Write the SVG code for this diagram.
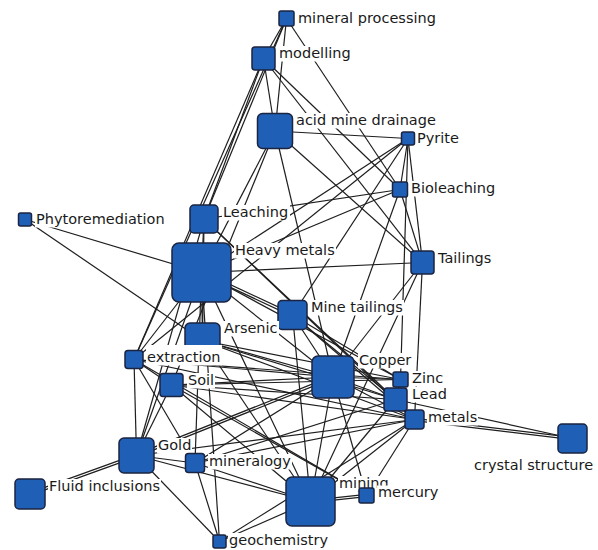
<svg xmlns="http://www.w3.org/2000/svg" width="598" height="550" viewBox="0 0 598 550">
<style>
.e{stroke:#1e1e1e;stroke-width:1.2;fill:none}
.n{fill:#1f5fb5;stroke:#1b2440;stroke-width:1.5}
.bg{fill:#fff}
.t{font-family:"DejaVu Sans",Verdana,sans-serif;font-size:14.5px;fill:#1a1a1a}
</style>
<rect width="598" height="550" fill="#fff"/>
<g id="connectors">
<line class="e" x1="286.5" y1="18.5" x2="263.5" y2="58.5"/>
<line class="e" x1="286.5" y1="18.5" x2="275" y2="131"/>
<line class="e" x1="286.5" y1="18.5" x2="134" y2="359.5"/>
<line class="e" x1="286.5" y1="18.5" x2="400" y2="189.5"/>
<line class="e" x1="286.5" y1="18.5" x2="204" y2="219"/>
<line class="e" x1="263.5" y1="58.5" x2="275" y2="131"/>
<line class="e" x1="263.5" y1="58.5" x2="400" y2="189.5"/>
<line class="e" x1="263.5" y1="58.5" x2="134" y2="359.5"/>
<line class="e" x1="263.5" y1="58.5" x2="204" y2="219"/>
<line class="e" x1="263.5" y1="58.5" x2="422.5" y2="262.5"/>
<line class="e" x1="275" y1="131" x2="408" y2="138.5"/>
<line class="e" x1="275" y1="131" x2="201.5" y2="272.5"/>
<line class="e" x1="275" y1="131" x2="171.5" y2="385"/>
<line class="e" x1="275" y1="131" x2="333" y2="377"/>
<line class="e" x1="275" y1="131" x2="422.5" y2="262.5"/>
<line class="e" x1="408" y1="138.5" x2="400" y2="189.5"/>
<line class="e" x1="408" y1="138.5" x2="422.5" y2="262.5"/>
<line class="e" x1="408" y1="138.5" x2="201.5" y2="272.5"/>
<line class="e" x1="408" y1="138.5" x2="292.5" y2="315"/>
<line class="e" x1="408" y1="138.5" x2="400.5" y2="379.5"/>
<line class="e" x1="408" y1="138.5" x2="134" y2="359.5"/>
<line class="e" x1="400" y1="189.5" x2="422.5" y2="262.5"/>
<line class="e" x1="400" y1="189.5" x2="333" y2="377"/>
<line class="e" x1="400" y1="189.5" x2="201.5" y2="272.5"/>
<line class="e" x1="400" y1="189.5" x2="204" y2="219"/>
<line class="e" x1="204" y1="219" x2="201.5" y2="272.5"/>
<line class="e" x1="204" y1="219" x2="202.5" y2="340.5"/>
<line class="e" x1="204" y1="219" x2="395.5" y2="399.5"/>
<line class="e" x1="204" y1="219" x2="414.5" y2="419.5"/>
<line class="e" x1="204" y1="219" x2="136.5" y2="455.5"/>
<line class="e" x1="25" y1="219.5" x2="201.5" y2="272.5"/>
<line class="e" x1="25" y1="219.5" x2="202.5" y2="340.5"/>
<line class="e" x1="201.5" y1="272.5" x2="422.5" y2="262.5"/>
<line class="e" x1="201" y1="273.6" x2="292" y2="316.1"/>
<line class="e" x1="202" y1="271.4" x2="293" y2="313.9"/>
<line class="e" x1="201.5" y1="272.5" x2="333" y2="377"/>
<line class="e" x1="201.5" y1="272.5" x2="400.5" y2="379.5"/>
<line class="e" x1="201.5" y1="272.5" x2="195" y2="463"/>
<line class="e" x1="201.5" y1="272.5" x2="219.5" y2="541.5"/>
<line class="e" x1="201.5" y1="272.5" x2="134" y2="359.5"/>
<line class="e" x1="201.5" y1="272.5" x2="136.5" y2="455.5"/>
<line class="e" x1="201.5" y1="272.5" x2="202.5" y2="340.5"/>
<line class="e" x1="201.5" y1="272.5" x2="310.5" y2="501.5"/>
<line class="e" x1="422.5" y1="262.5" x2="310.5" y2="501.5"/>
<line class="e" x1="422.5" y1="262.5" x2="333" y2="377"/>
<line class="e" x1="422.5" y1="262.5" x2="414.5" y2="419.5"/>
<line class="e" x1="292.5" y1="315" x2="333" y2="377"/>
<line class="e" x1="292.5" y1="315" x2="310.5" y2="501.5"/>
<line class="e" x1="292.5" y1="315" x2="400.5" y2="379.5"/>
<line class="e" x1="292.5" y1="315" x2="395.5" y2="399.5"/>
<line class="e" x1="292.5" y1="315" x2="414.5" y2="419.5"/>
<line class="e" x1="202.5" y1="340.5" x2="333" y2="377"/>
<line class="e" x1="202.5" y1="340.5" x2="395.5" y2="399.5"/>
<line class="e" x1="202.5" y1="340.5" x2="400.5" y2="379.5"/>
<line class="e" x1="202.5" y1="340.5" x2="414.5" y2="419.5"/>
<line class="e" x1="202.5" y1="340.5" x2="310.5" y2="501.5"/>
<line class="e" x1="134" y1="359.5" x2="136.5" y2="455.5"/>
<line class="e" x1="134" y1="359.5" x2="171.5" y2="385"/>
<line class="e" x1="134" y1="359.5" x2="414.5" y2="419.5"/>
<line class="e" x1="134" y1="359.5" x2="400.5" y2="379.5"/>
<line class="e" x1="134" y1="359.5" x2="333" y2="377"/>
<line class="e" x1="134" y1="359.5" x2="195" y2="463"/>
<line class="e" x1="134" y1="359.5" x2="366.5" y2="495.5"/>
<line class="e" x1="171.5" y1="385" x2="136.5" y2="455.5"/>
<line class="e" x1="171.5" y1="385" x2="333" y2="377"/>
<line class="e" x1="171.5" y1="385" x2="395.5" y2="399.5"/>
<line class="e" x1="171.5" y1="385" x2="366.5" y2="495.5"/>
<line class="e" x1="171.5" y1="385" x2="310.5" y2="501.5"/>
<line class="e" x1="171.5" y1="385" x2="400.5" y2="379.5"/>
<line class="e" x1="171.5" y1="385" x2="414.5" y2="419.5"/>
<line class="e" x1="136.5" y1="455.5" x2="195" y2="463"/>
<line class="e" x1="136.5" y1="455.5" x2="310.5" y2="501.5"/>
<line class="e" x1="136.1" y1="454.4" x2="29.6" y2="492.9"/>
<line class="e" x1="136.9" y1="456.6" x2="30.4" y2="495.1"/>
<line class="e" x1="136.5" y1="455.5" x2="219.5" y2="541.5"/>
<line class="e" x1="136.1" y1="454.4" x2="332.6" y2="375.9"/>
<line class="e" x1="136.9" y1="456.6" x2="333.4" y2="378.1"/>
<line class="e" x1="136.5" y1="455.5" x2="414.5" y2="419.5"/>
<line class="e" x1="195" y1="463" x2="219.5" y2="541.5"/>
<line class="e" x1="195" y1="463" x2="310.5" y2="501.5"/>
<line class="e" x1="195" y1="463" x2="333" y2="377"/>
<line class="e" x1="195" y1="463" x2="395.5" y2="399.5"/>
<line class="e" x1="195" y1="463" x2="414.5" y2="419.5"/>
<line class="e" x1="333" y1="377" x2="400.5" y2="379.5"/>
<line class="e" x1="333" y1="377" x2="395.5" y2="399.5"/>
<line class="e" x1="333" y1="377" x2="414.5" y2="419.5"/>
<line class="e" x1="333" y1="377" x2="310.5" y2="501.5"/>
<line class="e" x1="333" y1="377" x2="366.5" y2="495.5"/>
<line class="e" x1="400.5" y1="379.5" x2="395.5" y2="399.5"/>
<line class="e" x1="395.5" y1="399.5" x2="414.5" y2="419.5"/>
<line class="e" x1="395.5" y1="399.5" x2="572.5" y2="438.5"/>
<line class="e" x1="414.5" y1="418.3" x2="572.5" y2="437.3"/>
<line class="e" x1="414.5" y1="420.7" x2="572.5" y2="439.7"/>
<line class="e" x1="310.5" y1="500.3" x2="366.5" y2="494.3"/>
<line class="e" x1="310.5" y1="502.7" x2="366.5" y2="496.7"/>
<line class="e" x1="310.5" y1="501.5" x2="219.5" y2="541.5"/>
<line class="e" x1="310.5" y1="501.5" x2="414.5" y2="419.5"/>
<line class="e" x1="310.5" y1="501.5" x2="395.5" y2="399.5"/>
<line class="e" x1="366.5" y1="495.5" x2="414.5" y2="419.5"/>
<line class="e" x1="219.5" y1="541.5" x2="414.5" y2="419.5"/>
</g>
<g id="n-mineral-processing"><rect class="n" x="279" y="11" width="15" height="15" rx="2"/><rect class="bg" x="297" y="11" width="140" height="15.5"/><text class="t" x="298" y="23">mineral processing</text></g>
<g id="n-modelling"><rect class="n" x="252" y="47" width="23" height="23" rx="3"/><rect class="bg" x="278" y="46" width="74" height="15.5"/><text class="t" x="279" y="58">modelling</text></g>
<g id="n-acid-mine-drainage"><rect class="n" x="257.5" y="113.5" width="35" height="35" rx="5"/><rect class="bg" x="295" y="113" width="142" height="15.5"/><text class="t" x="296" y="125">acid mine drainage</text></g>
<g id="n-pyrite"><rect class="n" x="401.5" y="132" width="13" height="13" rx="2"/><rect class="bg" x="416" y="128" width="44" height="16"/><text class="t" x="417" y="143">Pyrite</text></g>
<g id="n-bioleaching"><rect class="n" x="392.5" y="182" width="15" height="15" rx="2"/><rect class="bg" x="410" y="181" width="86" height="15.5"/><text class="t" x="411" y="193">Bioleaching</text></g>
<g id="n-leaching"><rect class="n" x="190" y="205" width="28" height="28" rx="4"/><rect class="bg" x="222" y="205" width="68" height="15.5"/><text class="t" x="223" y="217">Leaching</text></g>
<g id="n-phytoremediation"><rect class="n" x="18.5" y="213" width="13" height="13" rx="2"/><rect class="bg" x="35" y="212" width="138" height="15.5"/><text class="t" x="36" y="224">Phytoremediation</text></g>
<g id="n-heavy-metals"><rect class="n" x="172" y="243" width="59" height="59" rx="7"/><rect class="bg" x="234" y="243" width="102" height="15.5"/><text class="t" x="235" y="255">Heavy metals</text></g>
<g id="n-tailings"><rect class="n" x="411" y="251" width="23" height="23" rx="3"/><rect class="bg" x="437" y="251" width="58" height="15.5"/><text class="t" x="438" y="263">Tailings</text></g>
<g id="n-mine-tailings"><rect class="n" x="278" y="300.5" width="29" height="29" rx="4"/><rect class="bg" x="310" y="300" width="94" height="15.5"/><text class="t" x="311" y="312">Mine tailings</text></g>
<g id="n-arsenic"><rect class="n" x="185" y="323" width="35" height="35" rx="5"/><rect class="bg" x="223" y="321" width="56" height="15.5"/><text class="t" x="224" y="333">Arsenic</text></g>
<g id="n-extraction"><rect class="n" x="125" y="350.5" width="18" height="18" rx="3"/><rect class="bg" x="146" y="345" width="76" height="20.5"/><text class="t" x="147" y="362">extraction</text></g>
<g id="n-copper"><rect class="n" x="312" y="356" width="42" height="42" rx="6"/><rect class="bg" x="358" y="353" width="54" height="15.5"/><text class="t" x="359" y="365">Copper</text></g>
<g id="n-zinc"><rect class="n" x="393" y="372" width="15" height="15" rx="2"/><rect class="bg" x="411" y="371" width="33" height="15.5"/><text class="t" x="412" y="383">Zinc</text></g>
<g id="n-lead"><rect class="n" x="384" y="388" width="23" height="23" rx="3"/><rect class="bg" x="411" y="387" width="37" height="15.5"/><text class="t" x="412" y="399">Lead</text></g>
<g id="n-soil"><rect class="n" x="160" y="373.5" width="23" height="23" rx="3"/><rect class="bg" x="187" y="373" width="28" height="15.5"/><text class="t" x="188" y="385">Soil</text></g>
<g id="n-metals"><rect class="n" x="405" y="410" width="19" height="19" rx="3"/><rect class="bg" x="427" y="410" width="51" height="15.5"/><text class="t" x="428" y="422">metals</text></g>
<g id="n-crystal-structure"><rect class="n" x="558" y="424" width="29" height="29" rx="4"/><rect class="bg" x="473" y="458" width="121" height="15.5"/><text class="t" x="474" y="470">crystal structure</text></g>
<g id="n-gold"><rect class="n" x="119" y="438" width="35" height="35" rx="5"/><rect class="bg" x="157" y="438" width="35" height="15.5"/><text class="t" x="158" y="450">Gold</text></g>
<g id="n-mineralogy"><rect class="n" x="185.5" y="453.5" width="19" height="19" rx="3"/><rect class="bg" x="208" y="454" width="84" height="15.5"/><text class="t" x="209" y="466">mineralogy</text></g>
<g id="n-fluid-inclusions"><rect class="n" x="15" y="479" width="30" height="30" rx="4"/><rect class="bg" x="48" y="479" width="113" height="15.5"/><text class="t" x="49" y="491">Fluid inclusions</text></g>
<g id="n-mining"><rect class="n" x="286" y="477" width="49" height="49" rx="6"/><rect class="bg" x="338" y="476" width="52" height="15.5"/><text class="t" x="339" y="488">mining</text></g>
<g id="n-mercury"><rect class="n" x="359" y="488" width="15" height="15" rx="2"/><rect class="bg" x="377" y="485.5" width="63" height="15.5"/><text class="t" x="378" y="497">mercury</text></g>
<g id="n-geochemistry"><rect class="n" x="213" y="535" width="13" height="13" rx="2"/><rect class="bg" x="228" y="533" width="109" height="15.5"/><text class="t" x="229" y="545">geochemistry</text></g>
</svg>
